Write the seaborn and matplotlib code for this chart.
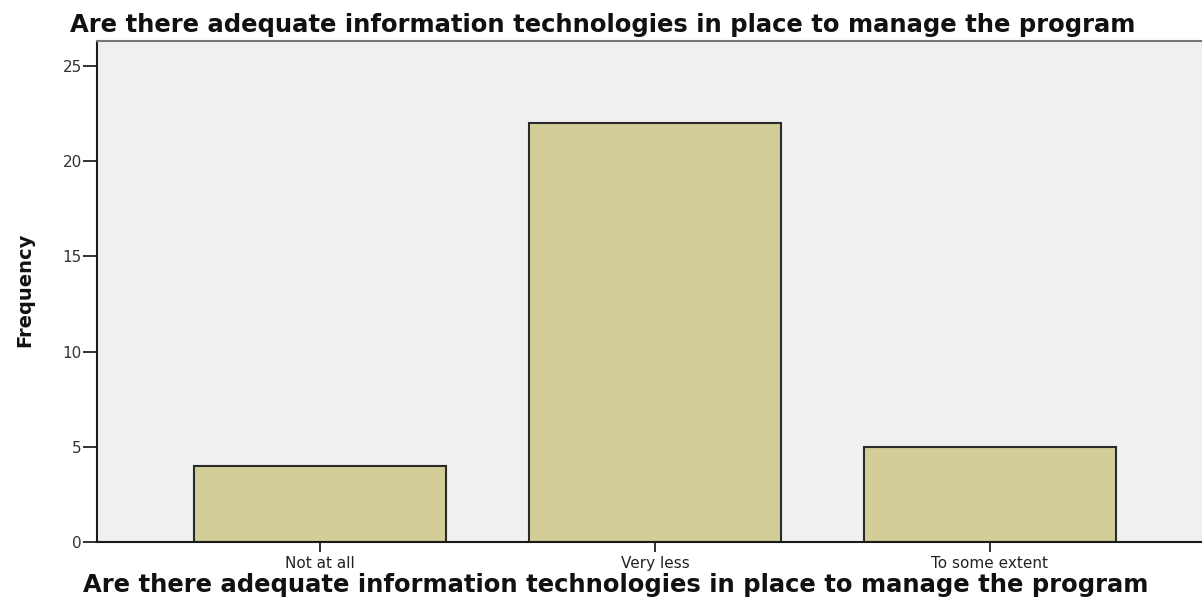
import numpy as np
import pandas as pd
import matplotlib
matplotlib.use("Agg")
import matplotlib.pyplot as plt
import seaborn as sns

# data
categories = ["Not at all", "Very less", "To some extent"]
frequency = [4, 22, 5]
y_ticks = [0, 5, 10, 15, 20, 25]
question = "Are there adequate information technologies in place to manage the program"

df = pd.DataFrame({"answer": categories, "count": frequency})

sns.set_style("white")
plt.rcParams["font.family"] = ["DejaVu Sans"]

fig = plt.figure(figsize=(12.02, 5.98), dpi=100)
ax = fig.add_axes([97 / 1202, 56 / 598, 1 - 97 / 1202, (542 - 41) / 598])
ax.set_facecolor("#f0f0f0")

sns.barplot(data=df, x="answer", y="count", color="#d3ce97", saturation=1,
            width=0.75, edgecolor="#2b2b2b", linewidth=1.5, ax=ax)

ax.set_xlim(-0.666, 2.633)
ax.set_ylim(0, 26.3)
ax.set_yticks(y_ticks)
ax.tick_params(axis="y", direction="out", length=10, width=1.3, colors="#222222",
               labelsize=11, labelcolor="#333333", left=True, pad=1)
ax.tick_params(axis="x", direction="out", length=7, width=1.3, colors="#222222",
               labelsize=11, labelcolor="#222222", bottom=True, pad=3)

for s in ["left", "bottom"]:
    ax.spines[s].set_color("#1a1a1a")
    ax.spines[s].set_linewidth(1.5)
ax.spines["top"].set_color("#777777")
ax.spines["top"].set_linewidth(1.5)
ax.spines["right"].set_visible(False)

ax.set_xlabel("")
ax.set_ylabel("")

fig.text(603 / 1202, 1 - 32 / 598, question, ha="center", va="baseline",
         fontsize=17.5, fontweight="bold", color="#111111")
fig.text(616 / 1202, 1 - 592 / 598, question, ha="center", va="baseline",
         fontsize=17.5, fontweight="bold", color="#111111")
fig.text(25 / 1202, 1 - 290 / 598, "Frequency", ha="center", va="center",
         rotation=90, fontsize=14, fontweight="bold",
         family=["DejaVu Sans Condensed", "Liberation Sans Narrow", "DejaVu Sans"],
         color="#111111")

fig.savefig("out.png", dpi=100)
